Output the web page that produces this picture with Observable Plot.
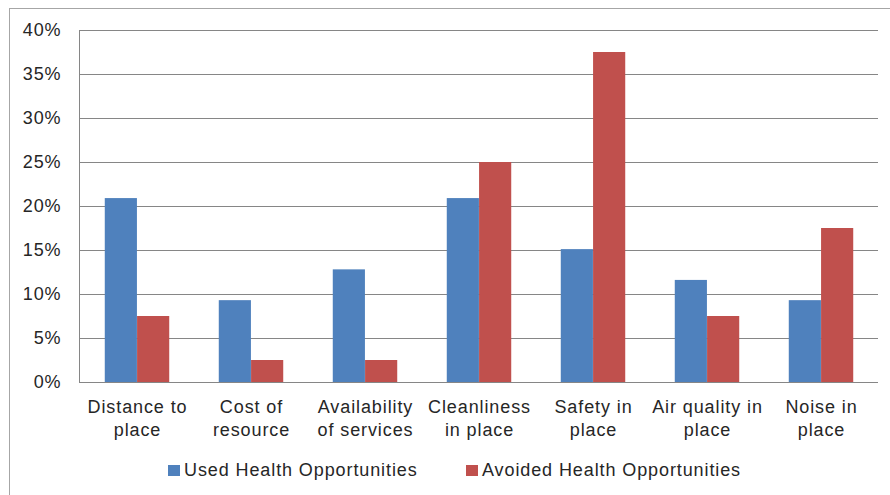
<!DOCTYPE html>
<html>
<head>
<meta charset="utf-8">
<script src="https://cdn.jsdelivr.net/npm/d3@7"></script>
<script src="https://cdn.jsdelivr.net/npm/@observablehq/plot@0.6"></script>
<style>
  html, body { margin: 0; padding: 0; background: #fff; }
  body { width: 890px; height: 495px; overflow: hidden; position: relative;
         font-family: "Liberation Sans", Arial, sans-serif; color: #262626; }
  #frame { position: absolute; left: 9px; top: 8px; width: 920px; height: 600px;
           border: 1px solid #a6a6a6; box-sizing: border-box; }
  #chart { position: absolute; left: 0; top: 0; }
  .leg { position: absolute; top: 459px; font-size: 18px; letter-spacing: 0.9px;
         line-height: 22px; white-space: nowrap; display: flex; align-items: center; }
  .sw { display: inline-block; width: 12px; height: 11px; margin-right: 4px; }
</style>
</head>
<body>
<div id="frame"></div>
<div id="chart"></div>
<div class="leg" style="left:168px"><span class="sw" style="background:#4F81BD"></span><span>Used Health Opportunities</span></div>
<div class="leg" style="left:466px"><span class="sw" style="background:#C0504D"></span><span>Avoided Health Opportunities</span></div>
<script>
const categories = ["Distance to place", "Cost of resource", "Availability of services",
  "Cleanliness in place", "Safety in place", "Air quality in place", "Noise in place"];
const xTickLabels = ["Distance to\nplace", "Cost of\nresource", "Availability\nof services",
  "Cleanliness\nin place", "Safety in\nplace", "Air quality in\nplace", "Noise in\nplace"];
const usedHealth = [20.9, 9.3, 12.8, 20.9, 15.1, 11.6, 9.3];
const avoidedHealth = [7.5, 2.5, 2.5, 25.0, 37.5, 7.5, 17.5];
const yTicks = [0, 5, 10, 15, 20, 25, 30, 35, 40];

const data = categories.map((c, i) => ({category: c, used: usedHealth[i], avoided: avoidedHealth[i]}));

const W = 890, ML = 79, MR = 12;
const step = (W - ML - MR) / categories.length;
const barW = step * 0.283;
const outer = step / 2 - barW;

const chart = Plot.plot({
  width: W, height: 450,
  marginLeft: ML, marginRight: MR, marginTop: 30, marginBottom: 68,
  style: {fontFamily: "'Liberation Sans', Arial, sans-serif", fontSize: "18px",
          color: "#262626", background: "transparent", letterSpacing: "0.9px"},
  x: {domain: categories, padding: 0, label: null},
  y: {domain: [0, 40], label: null},
  marks: [
    Plot.ruleY(yTicks, {stroke: "#868686", strokeOpacity: 1}),
    Plot.barY(data, {x: "category", y: "used", fill: "#4F81BD", insetLeft: outer, insetRight: step / 2}),
    Plot.barY(data, {x: "category", y: "avoided", fill: "#C0504D", insetLeft: step / 2, insetRight: outer}),
    Plot.frame({anchor: "left", stroke: "#868686"}),
    Plot.axisY({ticks: yTicks, tickFormat: d => d + "%", tickSize: 0, tickPadding: 18, label: null}),
    Plot.axisX({tickSize: 0, tickPadding: 15, lineHeight: 1.25, label: null,
      tickFormat: d => xTickLabels[categories.indexOf(d)]})
  ]
});
document.getElementById("chart").appendChild(chart);
</script>
</body>
</html>
